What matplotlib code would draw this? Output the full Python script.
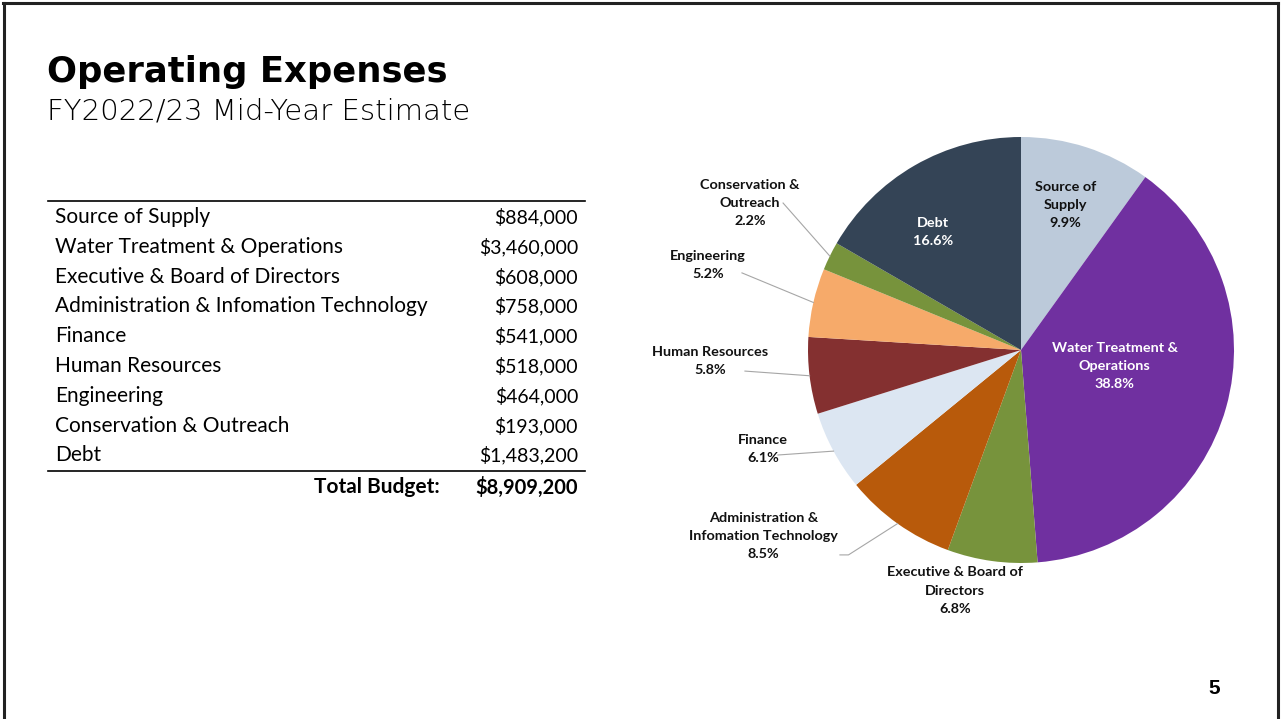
import numpy as np
import matplotlib
matplotlib.use("Agg")
import matplotlib.pyplot as plt
from matplotlib.lines import Line2D

# Budget data (FY2022/23 mid-year estimate)
categories = [
    "Source of Supply",
    "Water Treatment & Operations",
    "Executive & Board of Directors",
    "Administration & Infomation Technology",
    "Finance",
    "Human Resources",
    "Engineering",
    "Conservation & Outreach",
    "Debt",
]
amounts = [884000, 3460000, 608000, 758000, 541000, 518000, 464000, 193000, 1483200]

# Pie labels (wrapped as on the slide)
pie_labels = [
    "Source of\nSupply",
    "Water Treatment &\nOperations",
    "Executive & Board of\nDirectors",
    "Administration &\nInfomation Technology",
    "Finance",
    "Human Resources",
    "Engineering",
    "Conservation &\nOutreach",
    "Debt",
]
colors = ["#bccada", "#7030a0", "#77933c", "#b85a0b", "#dce6f2",
          "#843030", "#f6aa6a", "#77933c", "#344456"]
label_colors = ["#111111", "white", "#111111", "#111111", "#111111",
                "#111111", "#111111", "#111111", "white"]

# label positions relative to pie centre (units of radius) and leader-line starts
label_pos = [(0.21, 0.68), (0.44, -0.075), (-0.31, -1.13), (-1.21, -0.873),
             (-1.21, -0.465), (-1.46, -0.052), (-1.47, 0.399), (-1.272, 0.69),
             (-0.413, 0.554)]
leader_start = [None, None, None, (-0.85, -0.962), (-1.141, -0.493),
                (-1.296, -0.099), (-1.31, 0.362), (-1.117, 0.69), None]

BODY = "Lato"

fig = plt.figure(figsize=(12.81, 7.19), dpi=100)
W, H = 1281, 719

def fx(px):
    return px / W

def fy(py):
    return 1 - py / H

# slide frame
for xs, ys in [([3, 1278], [3, 3]), ([4, 4], [3, 719]), ([1278, 1278], [3, 719])]:
    fig.add_artist(Line2D([fx(x) for x in xs], [fy(y) for y in ys],
                          color="#222222", linewidth=2.2))

# title
fig.text(fx(47), fy(82), "Operating Expenses", fontsize=25.5, fontweight="bold",
         family="DejaVu Sans", color="black", va="baseline")
fig.text(fx(47), fy(119), "FY2022/23 Mid-Year Estimate", fontsize=21,
         fontweight="light", family="DejaVu Sans", color="black", va="baseline")

# table
row_y0, row_dy = 217, 29.8
fig.add_artist(Line2D([fx(48), fx(585)], [fy(201), fy(201)], color="black", linewidth=1.2))
for i, (name, amt) in enumerate(zip(categories, amounts)):
    y = row_y0 + i * row_dy
    fig.text(fx(55), fy(y), name, fontsize=15, family=BODY, va="center", color="black")
    fig.text(fx(578), fy(y), f"${amt:,}", fontsize=14, family=BODY, va="center",
             ha="right", color="black")
fig.add_artist(Line2D([fx(48), fx(585)], [fy(471), fy(471)], color="black", linewidth=1.2))
total = sum(amounts)
fig.text(fx(440), fy(487), "Total Budget:", fontsize=15, family=BODY, fontweight="bold",
         va="center", ha="right")
fig.text(fx(578), fy(487), f"${total:,}", fontsize=14.5, family=BODY, fontweight="bold",
         va="center", ha="right")

# page number
fig.text(fx(1214), fy(688), "5", fontsize=15, fontweight="bold", family="Liberation Sans",
         ha="center", va="center")

# pie: centre (1021, 350) px, radius 213 px
cx, cy, R = 1021, 350, 213
x0, x1, y0, y1 = -1.8, 1.2, -1.4, 1.1
ax = fig.add_axes([fx(cx + x0 * R), fy(cy - y0 * R), (x1 - x0) * R / W, (y1 - y0) * R / H])
wedges, _ = ax.pie(amounts, colors=colors, startangle=90, counterclock=False,
                   radius=1.0, wedgeprops=dict(linewidth=0))
ax.set_xlim(x0, x1)
ax.set_ylim(y0, y1)
ax.set_aspect("equal")
ax.axis("off")

for i, w in enumerate(wedges):
    pct = amounts[i] / total * 100
    lx, ly = label_pos[i]
    ax.text(lx, ly, f"{pie_labels[i]}\n{pct:.1f}%", ha="center", va="center",
            fontsize=10.4, fontweight="bold", family=BODY, color=label_colors[i],
            linespacing=1.62)
    if leader_start[i] is not None:
        mid = np.deg2rad((w.theta1 + w.theta2) / 2)
        ex, ey = np.cos(mid), np.sin(mid)
        sx, sy = leader_start[i]
        if i == 3:
            ax.plot([sx, sx + 0.04, ex], [sy, sy, ey], color="#a6a6a6", linewidth=0.8)
        else:
            ax.plot([sx, ex], [sy, ey], color="#a6a6a6", linewidth=0.8)

fig.savefig("out.png", dpi=100, facecolor="white")
